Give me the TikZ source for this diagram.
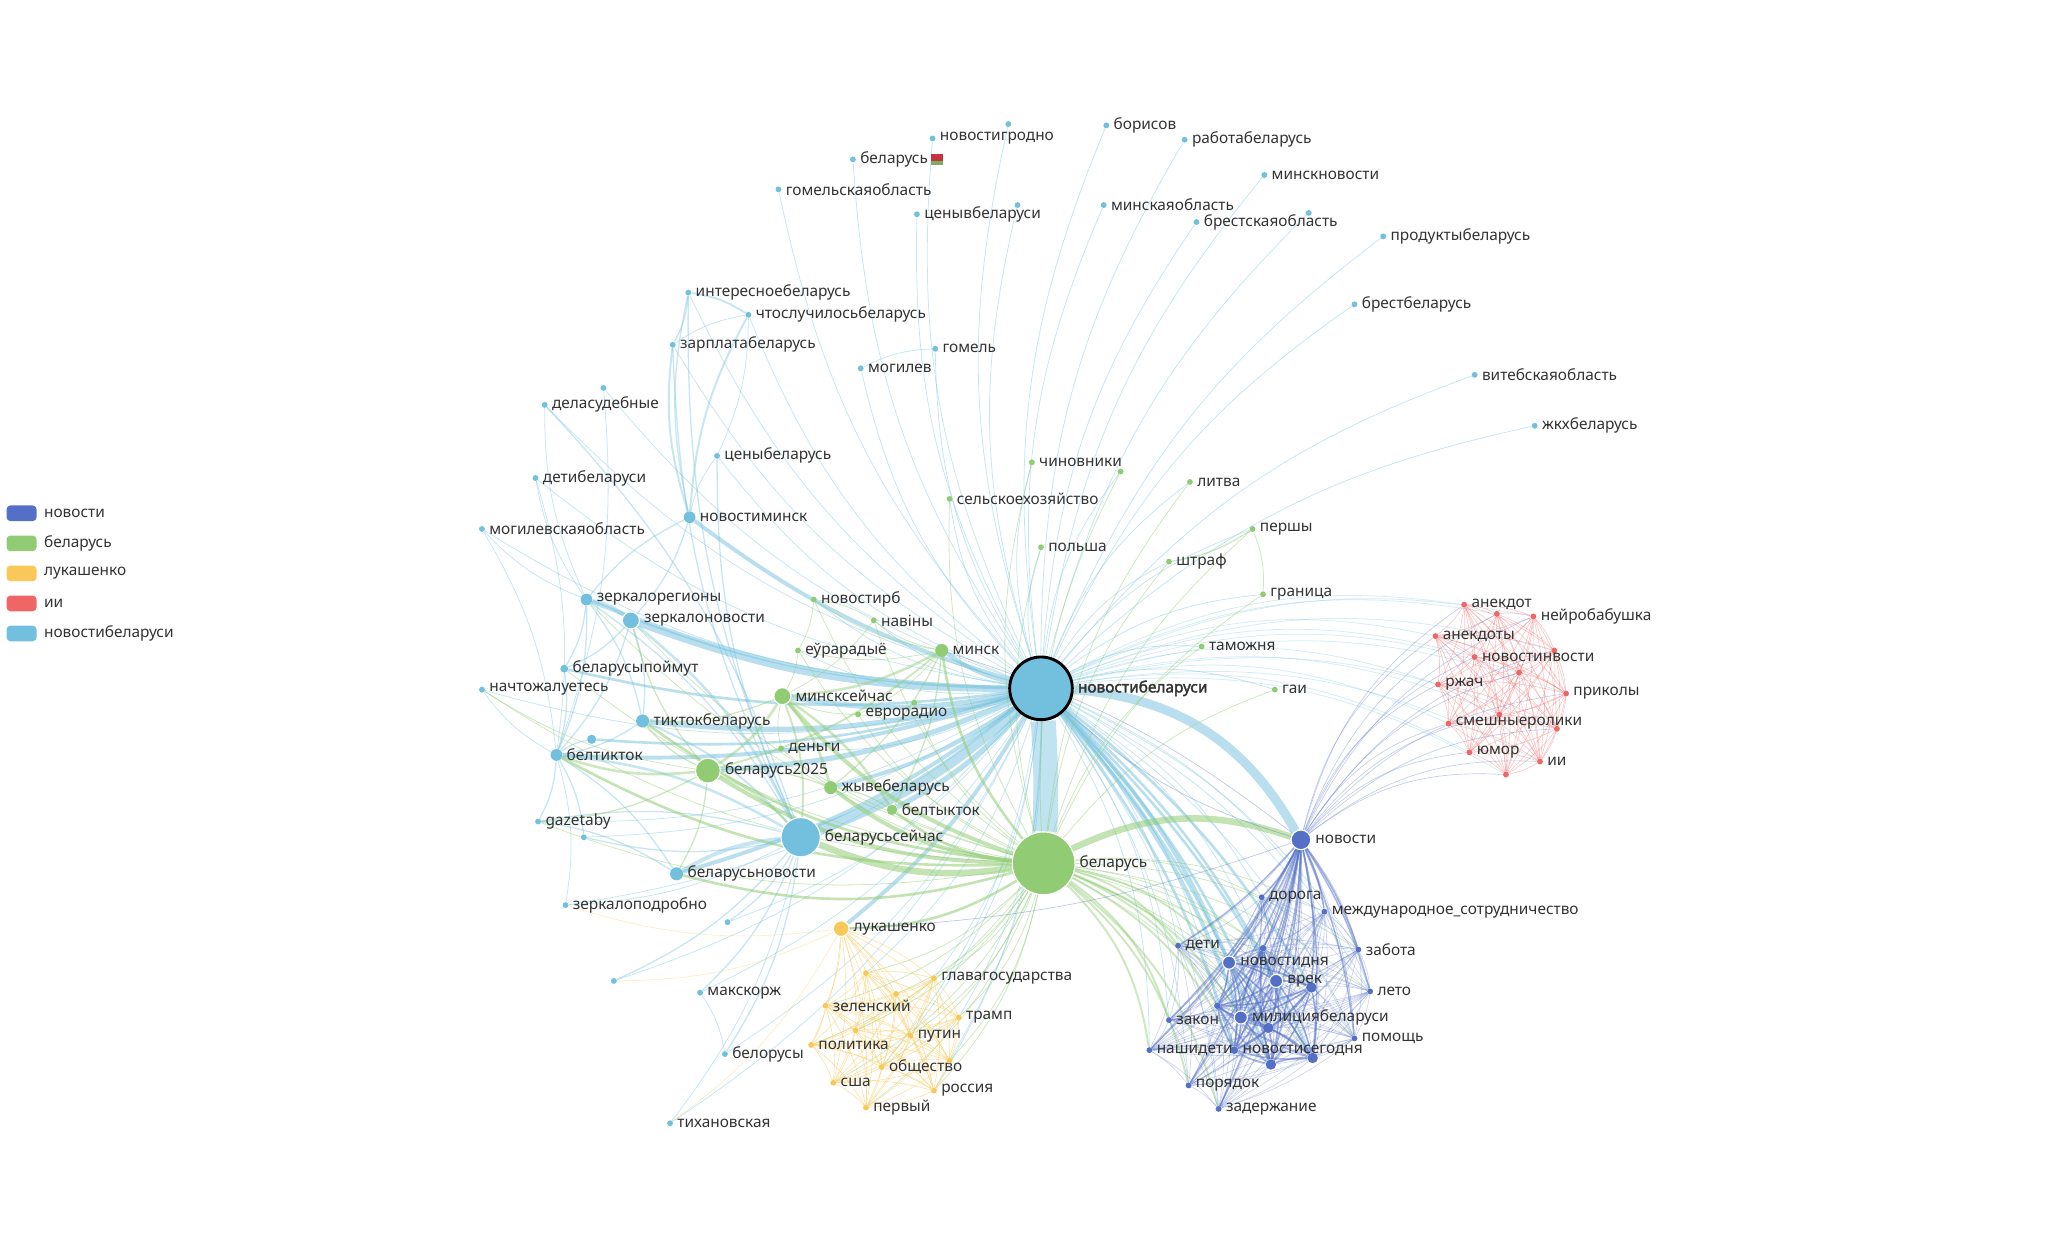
\documentclass[tikz,border=0pt]{standalone}
\usepackage{fontspec}
\setmainfont{Noto Sans}
\newfontfamily\hubfont{Noto Sans}[FakeBold=2.2]
\usepackage{xcolor}
\usepackage{tikz}
\usetikzlibrary{calc}
\usetikzlibrary{positioning}
\usetikzlibrary{backgrounds}
\definecolor{cNo}{HTML}{5470C6}
\definecolor{cBy}{HTML}{91CC75}
\definecolor{cLu}{HTML}{FAC858}
\definecolor{cIi}{HTML}{EE6666}
\definecolor{cNb}{HTML}{73C0DE}
\definecolor{txt}{HTML}{333333}
\definecolor{flagred}{HTML}{C8313E}
\newcommand{\labfont}{\fontsize{11.8}{13}\selectfont}
\def\redlist{an,ur1,nbb,ak,ur2,nn,ur3,rz,pk,ur4,sm,ur5,ju,ii,ur6}
\def\yellist{lu,uy1,gg,uy2,ze,tr,uy3,pu,pl,ob,uy4,us,ru,pv}
\def\bluelist{no,dr,mc,dt,un1,nd,vr,un2,zab,le,un3,zk,mb,un4,pm,nsd,ns,un5,un6,pr,zd}
\def\corelist{nd,vr,un2,mb,un4,un5,un6,ns,un1,un3}
\tikzstyle{every node}=[font=\labfont, text=txt]
\tikzstyle{dot}=[circle, inner sep=0pt, minimum size=4.5pt]
\tikzstyle{big}=[draw=white, line width=0.8pt]
\tikzstyle{dNb}=[dot, fill=cNb]
\tikzstyle{dBy}=[dot, fill=cBy]
\tikzstyle{dLu}=[dot, fill=cLu]
\tikzstyle{dIi}=[dot, fill=cIi]
\tikzstyle{dNo}=[dot, fill=cNo]
\tikzstyle{legbox}=[rectangle, rounded corners=3pt, minimum width=23pt, minimum height=12pt, inner sep=0pt]
\tikzstyle{eNb}=[draw=cNb, line width=0.6pt, draw opacity=0.4]
\tikzstyle{eBy}=[draw=cBy, line width=0.6pt, draw opacity=0.45]
\tikzstyle{eLu}=[draw=cLu, line width=0.5pt, draw opacity=0.5]
\tikzstyle{eIi}=[draw=cIi, line width=0.5pt, draw opacity=0.35]
\tikzstyle{eNo}=[draw=cNo, line width=0.5pt, draw opacity=0.4]

\begin{document}
\begin{tikzpicture}[x=1pt, y=-1pt, label distance=2pt, every label/.style={inner sep=1pt}]
                \useasboundingbox (0,0) rectangle (1568,954.8);

                \node[legbox, fill=cNo] (lgNo) at (16.5,393) {};
                \node[legbox, fill=cBy] (lgBy) at (16.5,416) {};
                \node[legbox, fill=cLu] (lgLu) at (16.5,439) {};
                \node[legbox, fill=cIi] (lgIi) at (16.5,462) {};
                \node[legbox, fill=cNb] (lgNb) at (16.5,485) {};
                \node[right=2pt of lgNo] (lgNoT) {новости};
                \node[right=2pt of lgBy] (lgByT) {беларусь};
                \node[right=2pt of lgLu] (lgLuT) {лукашенко};
                \node[right=2pt of lgIi] (lgIiT) {ии};
                \node[right=2pt of lgNb] (lgNbT) {новостибеларуси};

                \node[dNb, minimum size=48pt, draw=black, line width=2.2pt, label={[font=\labfont\hubfont]right:новостибеларуси}] (nb) at (797,527) {};
                \node[dNb, big, minimum size=30pt, label=right:беларусьсейчас] (bs) at (613,641) {};
                \node[dNb, big, minimum size=13pt, label=right:зеркалоновости] (zn) at (483,475) {};
                \node[dNb, minimum size=9pt, label=right:зеркалорегионы] (zr) at (449,459) {};
                \node[dNb, minimum size=9pt, label=right:новостиминск] (nm) at (528,396) {};
                \node[dNb, minimum size=10pt, label=right:тиктокбеларусь] (tb) at (492,552) {};
                \node[dNb, minimum size=9pt, label=right:белтикток] (bt) at (426,578) {};
                \node[dNb, minimum size=7pt] (ux1) at (453,566) {};
                \node[dNb, minimum size=6pt, label=right:беларусыпоймут] (bp) at (432,512) {};
                \node[dNb, label=right:начтожалуетесь] (nz) at (369,528) {};
                \node[dNb, label=right:gazetaby] (gz) at (412,629) {};
                \node[dNb] (ux2) at (447,641) {};
                \node[dNb, minimum size=10pt, label=right:беларусьновости] (bn) at (518,669) {};
                \node[dNb, label=right:зеркалоподробно] (zp) at (433,693) {};
                \node[dNb] (ux3) at (557,706) {};
                \node[dNb] (ux4) at (470,751) {};
                \node[dNb, label=right:макскорж] (mk) at (536,760) {};
                \node[dNb, label=right:белорусы] (bl) at (555,807) {};
                \node[dNb, label=right:тихановская] (th) at (513,860) {};
                \node[dNb] (ux5) at (772,95) {};
                \node[dNb, label=right:новостигродно] (ng) at (714,106) {};
                \node[dNb, label=right:борисов] (bo) at (847,96) {};
                \node[dNb, label={[name=bfl]right:беларусь}] (bf) at (653,122) {};
                \node[dNb, label=right:работабеларусь] (rb) at (907,107) {};
                \node[dNb, label=right:гомельскаяобласть] (go) at (596,145) {};
                \node[dNb, label=right:минскновости] (mn) at (968,134) {};
                \node[dNb, label=right:ценывбеларуси] (cv) at (702,164) {};
                \node[dNb] (ux6) at (779,157) {};
                \node[dNb, label=right:минскаяобласть] (mo) at (845,157) {};
                \node[dNb, label=right:брестскаяобласть] (bro) at (916,170) {};
                \node[dNb] (ux7) at (1002,163) {};
                \node[dNb, label=right:продуктыбеларусь] (pb) at (1059,181) {};
                \node[dNb, label=right:брестбеларусь] (bb) at (1037,233) {};
                \node[dNb, label=right:витебскаяобласть] (vi) at (1129,287) {};
                \node[dNb, label=right:жкхбеларусь] (zh) at (1175,326) {};
                \node[dNb, label=right:интересноебеларусь] (ib) at (527,224) {};
                \node[dNb, label=right:чтослучилосьбеларусь] (cs) at (573,241) {};
                \node[dNb, label=right:зарплатабеларусь] (zb) at (515,264) {};
                \node[dNb, label=right:гомель] (gm) at (716,267) {};
                \node[dNb, label=right:могилев] (mg) at (659,282) {};
                \node[dNb] (ux8) at (462,297) {};
                \node[dNb, label=right:деласудебные] (ds) at (417,310) {};
                \node[dNb, label=right:ценыбеларусь] (cb) at (549,349) {};
                \node[dNb, label=right:детибеларуси] (db) at (410,366) {};
                \node[dNb, label=right:могилевскаяобласть] (ml) at (369,405) {};

                \node[dBy, big, minimum size=48pt, label=right:беларусь] (by) at (799,661) {};
                \node[dBy, label=right:чиновники] (ch) at (790,354) {};
                \node[dBy] (ug1) at (858,361) {};
                \node[dBy, label=right:сельскоехозяйство] (se) at (727,382) {};
                \node[dBy, label=right:литва] (li) at (911,369) {};
                \node[dBy, label=right:польша] (po) at (797,419) {};
                \node[dBy, label=right:штраф] (sh) at (895,430) {};
                \node[dBy, label=right:першы] (pe) at (959,405) {};
                \node[dBy, label=right:граница] (gr) at (967,455) {};
                \node[dBy, label=right:новостирб] (nr) at (623,459) {};
                \node[dBy, label=right:навіны] (nv) at (669,475) {};
                \node[dBy, label=right:таможня] (ta) at (920,495) {};
                \node[dBy, label=right:еўрарадыё] (eu) at (611,498) {};
                \node[dBy, minimum size=10pt, label=right:минск] (mi) at (721,498) {};
                \node[dBy, label=right:гаи] (ga) at (976,528) {};
                \node[dBy, big, minimum size=13pt, label=right:минсксейчас] (ms) at (599,533) {};
                \node[dBy] (ug2) at (700,538) {};
                \node[dBy, label=right:еврорадио] (er) at (657,547) {};
                \node[dBy, label=right:деньги] (de) at (598,573) {};
                \node[dBy, big, minimum size=19pt, label=right:беларусь2025] (b25) at (542,590) {};
                \node[dBy, minimum size=10pt, label=right:жывебеларусь] (zy) at (636,603) {};
                \node[dBy, minimum size=8pt, label=right:белтыкток] (bk) at (683,620) {};

                \node[dLu, big, minimum size=12pt, label=right:лукашенко] (lu) at (644,711) {};
                \node[dLu] (uy1) at (663,745) {};
                \node[dLu, label=right:главагосударства] (gg) at (715,749) {};
                \node[dLu] (uy2) at (686,761) {};
                \node[dLu, label=right:зеленский] (ze) at (632,770) {};
                \node[dLu, label=right:трамп] (tr) at (734,779) {};
                \node[dLu] (uy3) at (655,789) {};
                \node[dLu, label=right:путин] (pu) at (697,793) {};
                \node[dLu, label=right:политика] (pl) at (621,800) {};
                \node[dLu, label=right:общество] (ob) at (675,817) {};
                \node[dLu] (uy4) at (727,812) {};
                \node[dLu, label=right:сша] (us) at (638,829) {};
                \node[dLu, label=right:россия] (ru) at (715,835) {};
                \node[dLu, label=right:первый] (pv) at (663,848) {};

                \node[dNo, big, minimum size=15pt, label=right:новости] (no) at (996,643) {};
                \node[dNo, label=right:дорога] (dr) at (966,687) {};
                \node[dNo, label=right:международное\_сотрудничество] (mc) at (1014,698) {};
                \node[dNo, label=right:дети] (dt) at (902,724) {};
                \node[dNo, minimum size=5pt] (un1) at (967,726) {};
                \node[dNo, big, minimum size=10pt, label=right:новостидня] (nd) at (941,737) {};
                \node[dNo, big, minimum size=10pt, label=right:врек] (vr) at (977,751) {};
                \node[dNo, minimum size=8pt] (un2) at (1004,756) {};
                \node[dNo, label=right:забота] (zab) at (1040,727) {};
                \node[dNo, label=right:лето] (le) at (1049,759) {};
                \node[dNo, minimum size=5pt] (un3) at (932,770) {};
                \node[dNo, label=right:закон] (zk) at (895,781) {};
                \node[dNo, big, minimum size=10pt, label=right:милициябеларуси] (mb) at (950,779) {};
                \node[dNo, minimum size=8pt] (un4) at (971,787) {};
                \node[dNo, label=right:помощь] (pm) at (1037,795) {};
                \node[dNo, label=right:нашидети] (nsd) at (880,804) {};
                \node[dNo, minimum size=6pt, label=right:новостисегодня] (ns) at (945,804) {};
                \node[dNo, minimum size=8pt] (un5) at (973,815) {};
                \node[dNo, minimum size=8pt] (un6) at (1005,810) {};
                \node[dNo, label=right:порядок] (pr) at (910,831) {};
                \node[dNo, label=right:задержание] (zd) at (933,849) {};

                \node[dIi, label=right:анекдот] (an) at (1121,463) {};
                \node[dIi] (ur1) at (1146,470) {};
                \node[dIi, label=right:нейробабушка] (nbb) at (1174,472) {};
                \node[dIi, label=right:анекдоты] (ak) at (1099,487) {};
                \node[dIi] (ur2) at (1190,498) {};
                \node[dIi, label=right:новостинвости] (nn) at (1129,503) {};
                \node[dIi] (ur3) at (1163,515) {};
                \node[dIi, label=right:ржач] (rz) at (1101,524) {};
                \node[dIi, label=right:приколы] (pk) at (1199,531) {};
                \node[dIi] (ur4) at (1148,547) {};
                \node[dIi, label=right:смешныеролики] (sm) at (1109,554) {};
                \node[dIi] (ur5) at (1192,558) {};
                \node[dIi, label=right:юмор] (ju) at (1125,576) {};
                \node[dIi, label=right:ии] (ii) at (1179,583) {};
                \node[dIi] (ur6) at (1153,593) {};

                \fill[flagred] ($(bfl.east)+(1,-4)$) rectangle ($(bfl.east)+(10,1)$);
                \fill[cBy!85!black] ($(bfl.east)+(1,1)$) rectangle ($(bfl.east)+(10,4)$);

                \begin{scope}[on background layer]
                \foreach \t in {ux5,ng,bo,bf,rb,go,mn,cv,ux6,mo,bro,ux7,pb,bb,vi,zh,ib,cs,zb,gm,mg,ux8,ds,cb,db,ml,nz,gz,ux2,zp,ux3,ux4,mk,bl,th,ch,ug1,se,li,po,sh,pe,gr,nr,nv,ta,eu,ga,ug2,er,de,dr,mc,dt,un1,zab,le,un3,zk,pm,nsd,pr,zd,uy1,gg,tr,ru,uy4,pu,ob}
                    \draw[eNb] (nb) to[bend left=15] (\t);
                \foreach \t in \redlist
                    \draw[eNb, draw opacity=0.3] (nb) to[bend left=18] (\t);
                \draw[eNb, line width=19pt, draw opacity=0.45] (nb) to[bend left=3] (by);
                \draw[eNb, line width=7pt, draw opacity=0.5] (nb) to[bend left=28] (no);
                \foreach \t/\w in {bs/8,zn/5,tb/4,b25/4,ms/4,bk/4,zr/3,bt/3,nm/3,mi/3,zy/3,bn/3,lu/3,nd/3,mb/3,ns/2,vr/2,un2/2,un4/2,un5/2,un6/2,bp/2,ux1/2}
                    \draw[eNb, line width=\w pt, draw opacity=0.5] (nb) to[bend left=10] (\t);
                \foreach \a/\b/\w in {zr/zn/3,zr/bt/1,zr/bp/1,zr/ml/0.6,zr/db/0.6,zr/ds/0.6,zr/nm/1,zr/tb/1,zr/bs/1,zn/bp/1,zn/tb/1,zn/bs/2,zn/bt/1,nm/zn/1,nm/zb/1.5,nm/ib/1,nm/cs/1.5,nm/cb/0.6,ib/cs/1.5,ib/zb/1,zb/cs/0.6,cs/cb/0.6,bt/gz/1,bt/ux1/1,bt/bs/2,bt/bn/1,bt/ux2/1,bt/zp/0.6,bt/nz/0.6,gz/bs/1,gz/bn/1,bn/bs/3,bs/ux3/1,bs/mk/1,bs/bl/1,bs/th/0.6,bs/zp/0.6,bs/ux4/1,tb/bs/1.5,tb/bt/1,ds/bs/1,ux8/bt/0.6,mg/gm/0.6,bs/ux2/1,bp/bt/1,ml/bt/0.6,db/bt/0.6,bs/cb/1,bs/ib/1,bs/zb/1,mk/bl/0.6}
                    \draw[eNb, line width=\w pt] (\a) to[bend left=12] (\b);

                \foreach \t in {pe,sh,gr,ta,ga,ch,se,po,nv,nr,eu,er,de,ug1,ug2,li,gg,tr,pu,ob,ru,pv,us,pl,ze,uy1,uy2,uy3,uy4,zn,nz,gz,zr,bp,dr,mc,zab,le,pm,un1,vr,un2,un4,un5,un6}
                    \draw[eBy] (by) to[bend left=15] (\t);
                \foreach \t in {dt,zk,nsd,pr,zd,nd,mb,un3,ns}
                    \draw[eBy, line width=1.5pt] (by) to[bend left=18] (\t);
                \draw[eBy, line width=5pt, draw opacity=0.55] (by) to[bend left=22] (no);
                \foreach \t/\w in {bs/5,b25/3,ms/3,zy/3,bk/2,mi/2,lu/2,bn/2,bt/2,tb/2}
                    \draw[eBy, line width=\w pt, draw opacity=0.55] (by) to[bend left=15] (\t);
                \foreach \a/\b/\w in {mi/ms/2,mi/b25/1.5,ms/b25/2,ms/zy/2,ms/bk/2,b25/bt/2,b25/tb/1,b25/bs/1.5,b25/zy/1,mi/nv/0.6,mi/eu/0.6,mi/nr/0.6,mi/er/0.6,nr/nv/0.6,nr/eu/0.6,nv/ms/0.6,eu/ms/0.6,de/ms/0.6,er/ms/0.6,b25/gz/1,b25/bn/1,b25/nz/0.6,zy/bk/1,mi/zy/1,mi/bk/1,pe/sh/1,pe/gr/0.6,ms/bs/1.5,ms/tb/1,b25/zn/1}
                    \draw[eBy, line width=\w pt] (\a) to[bend left=12] (\b);

                \foreach \a [count=\i] in \yellist {
                    \foreach \b [count=\j] in \yellist {
                        \ifnum\i<\j \draw[eLu] (\a) to[bend left=10] (\b); \fi
                    }
                }
                \foreach \t in {zp,ux4,th}
                    \draw[eLu, draw opacity=0.35] (lu) to[bend left=12] (\t);

                \foreach \a [count=\i] in \redlist {
                    \foreach \b [count=\j] in \redlist {
                        \ifnum\i<\j \draw[eIi] (\a) to[bend left=10] (\b); \fi
                    }
                }

                \foreach \a [count=\i] in \bluelist {
                    \foreach \b [count=\j] in \bluelist {
                        \ifnum\i<\j \draw[eNo, draw opacity=0.3] (\a) to[bend left=10] (\b); \fi
                    }
                }
                \foreach \a [count=\i] in \corelist {
                    \foreach \b [count=\j] in \corelist {
                        \ifnum\i<\j \draw[eNo, line width=1.3pt, draw opacity=0.45] (\a) to[bend left=10] (\b); \fi
                    }
                }
                \foreach \t in {dr,mc,dt,un1,nd,vr,un2,zab,le,un3,zk,mb,un4,pm,nsd,ns,un5,un6,pr,zd}
                    \draw[eNo, line width=1.2pt, draw opacity=0.5] (no) to[bend left=8] (\t);
                \foreach \t in \redlist
                    \draw[eNo, draw opacity=0.35] (no) to[bend left=20] (\t);
                \draw[eNo] (no) to[bend left=12] (nb);
                \draw[eNo] (no) to[bend left=8] (lu);
                \draw[eNo] (mi) to[bend left=10] (no);
                \end{scope}
            \end{tikzpicture}
\end{document}
